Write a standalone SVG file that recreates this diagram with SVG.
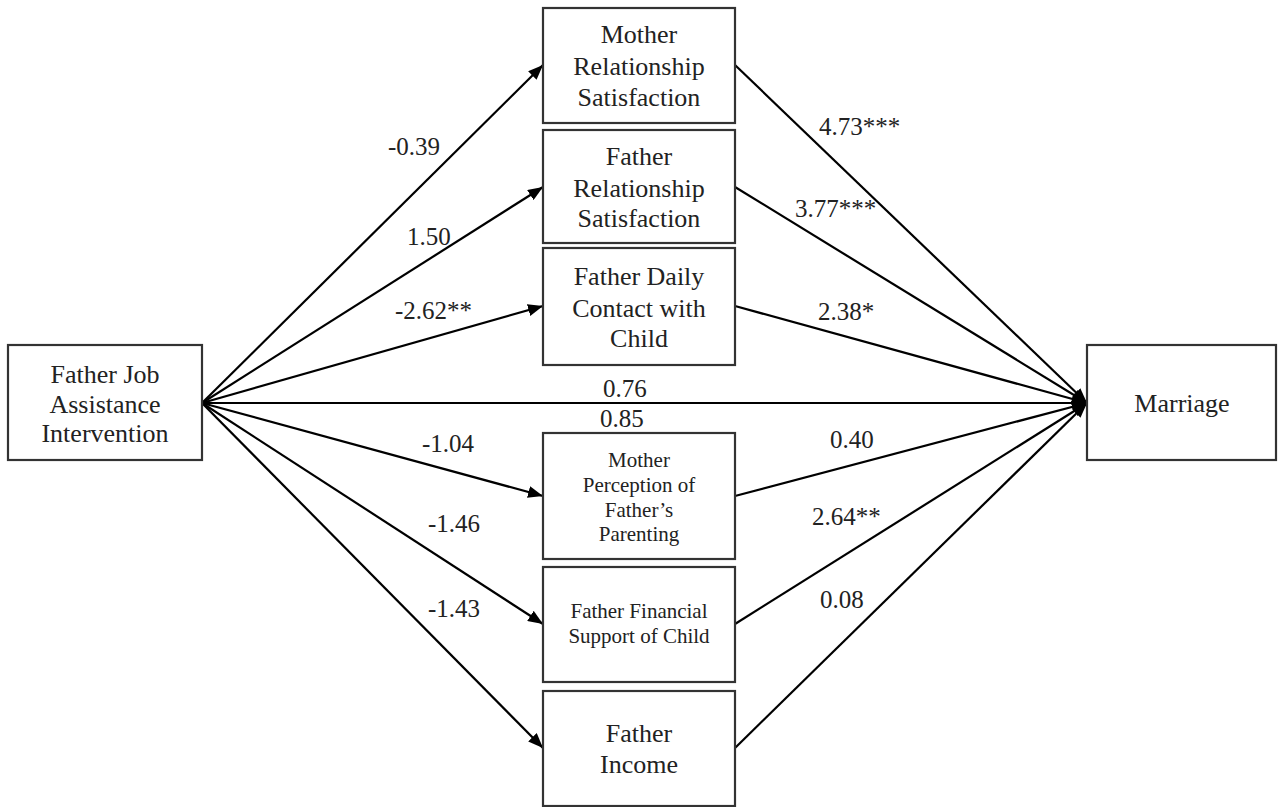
<svg xmlns="http://www.w3.org/2000/svg" width="1278" height="807" viewBox="0 0 1278 807">
<style>
.box{fill:#fff;stroke:#333;stroke-width:2.2}
.t{font-family:"Liberation Serif","Times New Roman",serif;font-size:26px;fill:#222;text-anchor:middle}
.ts{font-size:21px}
.lbl{font-family:"Liberation Serif","Times New Roman",serif;font-size:25px;fill:#222}
.ln{stroke:#000;stroke-width:2.2;fill:none;marker-end:url(#ah)}
</style>
<defs>
<marker id="ah" markerUnits="userSpaceOnUse" markerWidth="16" markerHeight="12" refX="15" refY="6" orient="auto">
<path d="M0,0 L15,6 L0,12 z" fill="#000"/>
</marker>
</defs>
<rect width="1278" height="807" fill="#fff"/>
<g id="connectors">
<line class="ln" x1="202" y1="403" x2="543" y2="65"/>
<line class="ln" x1="202" y1="403" x2="543" y2="187"/>
<line class="ln" x1="202" y1="403" x2="543" y2="306"/>
<line class="ln" x1="202" y1="403" x2="1087" y2="403"/>
<line class="ln" x1="202" y1="403" x2="543" y2="496"/>
<line class="ln" x1="202" y1="403" x2="543" y2="624"/>
<line class="ln" x1="202" y1="403" x2="543" y2="748"/>
<line class="ln" x1="735" y1="65" x2="1087" y2="403"/>
<line class="ln" x1="735" y1="187" x2="1087" y2="403"/>
<line class="ln" x1="735" y1="306" x2="1087" y2="403"/>
<line class="ln" x1="735" y1="496" x2="1087" y2="403"/>
<line class="ln" x1="735" y1="624" x2="1087" y2="403"/>
<line class="ln" x1="735" y1="748" x2="1087" y2="403"/>
<text class="lbl" x="388" y="155">-0.39</text>
<text class="lbl" x="407" y="245">1.50</text>
<text class="lbl" x="395" y="319">-2.62**</text>
<text class="lbl" x="603" y="397">0.76</text>
<text class="lbl" x="600" y="427">0.85</text>
<text class="lbl" x="422" y="452">-1.04</text>
<text class="lbl" x="428" y="532">-1.46</text>
<text class="lbl" x="428" y="617">-1.43</text>
<text class="lbl" x="819" y="135">4.73***</text>
<text class="lbl" x="795" y="217">3.77***</text>
<text class="lbl" x="818" y="320">2.38*</text>
<text class="lbl" x="830" y="448">0.40</text>
<text class="lbl" x="812" y="525">2.64**</text>
<text class="lbl" x="820" y="608">0.08</text>
</g>
<g id="n-intervention">
<rect class="box" x="8" y="345" width="194" height="115"/>
<text class="t" x="105" y="383">Father Job</text>
<text class="t" x="105" y="413">Assistance</text>
<text class="t" x="105" y="442">Intervention</text>
</g>
<g id="n-mother-rel">
<rect class="box" x="543" y="8" width="192" height="115"/>
<text class="t" x="639" y="43">Mother</text>
<text class="t" x="639" y="75">Relationship</text>
<text class="t" x="639" y="106">Satisfaction</text>
</g>
<g id="n-father-rel">
<rect class="box" x="543" y="130" width="192" height="113"/>
<text class="t" x="639" y="165">Father</text>
<text class="t" x="639" y="197">Relationship</text>
<text class="t" x="639" y="227">Satisfaction</text>
</g>
<g id="n-daily">
<rect class="box" x="543" y="248" width="192" height="117"/>
<text class="t" x="639" y="285">Father Daily</text>
<text class="t" x="639" y="317">Contact with</text>
<text class="t" x="639" y="347">Child</text>
</g>
<g id="n-perception">
<rect class="box" x="543" y="433" width="192" height="126"/>
<text class="t ts" x="639" y="467">Mother</text>
<text class="t ts" x="639" y="492">Perception of</text>
<text class="t ts" x="639" y="517">Father’s</text>
<text class="t ts" x="639" y="541">Parenting</text>
</g>
<g id="n-financial">
<rect class="box" x="543" y="567" width="192" height="115"/>
<text class="t ts" x="639" y="618">Father Financial</text>
<text class="t ts" x="639" y="643">Support of Child</text>
</g>
<g id="n-income">
<rect class="box" x="543" y="691" width="192" height="115"/>
<text class="t" x="639" y="742">Father</text>
<text class="t" x="639" y="773">Income</text>
</g>
<g id="n-marriage">
<rect class="box" x="1087" y="345" width="189" height="115"/>
<text class="t" x="1182" y="412">Marriage</text>
</g>
</svg>
